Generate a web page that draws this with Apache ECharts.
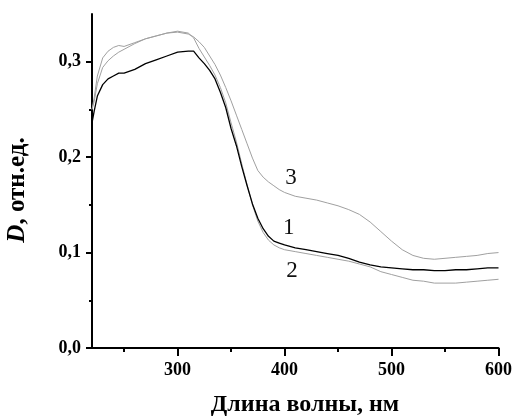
<!DOCTYPE html>
<html>
<head>
<meta charset="utf-8">
<script src="https://cdn.jsdelivr.net/npm/echarts@6/dist/echarts.min.js"></script>
<style>
  html, body { margin: 0; padding: 0; background: #fff; }
  #chart { width: 515px; height: 418px; }
</style>
</head>
<body>
<div id="chart"></div>
<script>
// длины волн, нм
const wavelengths = [220, 222, 225, 230, 235, 240, 245, 250, 260, 270, 280, 290, 300, 310, 315, 320, 325, 330, 335, 340,
  345, 350, 355, 360, 365, 370, 375, 380, 385, 390, 395, 400, 410, 420, 430, 440, 450, 460, 470, 480,
  490, 500, 510, 520, 530, 540, 550, 560, 570, 580, 590, 600];

// кривая 1 (чёрная)
const curve1 = [0.236, 0.248, 0.264, 0.276, 0.282, 0.285, 0.288, 0.288, 0.292, 0.298, 0.302, 0.306, 0.310, 0.311, 0.311, 0.304, 0.298, 0.291, 0.282, 0.268,
  0.252, 0.230, 0.212, 0.190, 0.170, 0.151, 0.136, 0.125, 0.117, 0.112, 0.110, 0.108, 0.105, 0.103, 0.101, 0.099, 0.097, 0.094, 0.090, 0.087,
  0.085, 0.084, 0.083, 0.082, 0.082, 0.081, 0.081, 0.082, 0.082, 0.083, 0.084, 0.084];

// кривая 2 (серая, нижняя справа)
const curve2 = [0.250, 0.258, 0.277, 0.294, 0.301, 0.306, 0.310, 0.313, 0.319, 0.324, 0.327, 0.330, 0.332, 0.330, 0.325, 0.314, 0.305, 0.296, 0.286, 0.273,
  0.257, 0.236, 0.216, 0.193, 0.171, 0.150, 0.133, 0.121, 0.113, 0.108, 0.105, 0.103, 0.101, 0.099, 0.097, 0.095, 0.093, 0.091, 0.088, 0.085,
  0.080, 0.077, 0.074, 0.071, 0.070, 0.068, 0.068, 0.068, 0.069, 0.070, 0.071, 0.072];

// кривая 3 (серая, верхняя справа)
const curve3 = [0.250, 0.262, 0.285, 0.304, 0.311, 0.315, 0.317, 0.316, 0.320, 0.324, 0.327, 0.330, 0.331, 0.329, 0.326, 0.321, 0.315, 0.306, 0.297, 0.286,
  0.273, 0.259, 0.244, 0.229, 0.214, 0.199, 0.186, 0.179, 0.174, 0.170, 0.166, 0.163, 0.159, 0.157, 0.155, 0.152, 0.149, 0.145, 0.140, 0.132,
  0.122, 0.112, 0.103, 0.097, 0.094, 0.093, 0.094, 0.095, 0.096, 0.097, 0.099, 0.100];

// подписи кривых: [номер, λ, D]
const curveLabels = [['1', 404, 0.126], ['2', 407, 0.081], ['3', 406, 0.178]];

const xMajor = [300, 400, 500, 600];
const xMinor = [250, 350, 450, 550];
const yMajor = [0, 0.1, 0.2, 0.3];
const yMinor = [0.05, 0.15, 0.25];

const FONT = '"Liberation Serif", "DejaVu Serif", serif';
const zip = (xs, ys) => xs.map((x, i) => [x, ys[i]]);

const chart = echarts.init(document.getElementById('chart'));

const axisLine = { show: true, lineStyle: { color: '#000', width: 2 } };

const option = {
  animation: false,
  backgroundColor: '#fff',
  grid: { left: 92, right: 15, top: 14, bottom: 70 },
  xAxis: [{
    type: 'value', min: 220, max: 600,
    axisLine: axisLine,
    splitLine: { show: false },
    axisTick: { show: true, customValues: xMajor, length: 8, lineStyle: { color: '#000', width: 2 } },
    axisLabel: { customValues: xMajor, margin: 13, color: '#000', fontFamily: FONT, fontWeight: 'bold', fontSize: 18 }
  }, {
    type: 'value', min: 220, max: 600, position: 'bottom',
    axisLine: { show: false },
    splitLine: { show: false },
    axisTick: { show: true, customValues: xMinor, length: 4, lineStyle: { color: '#000', width: 2 } },
    axisLabel: { show: false }
  }],
  yAxis: [{
    type: 'value', min: 0, max: 0.35,
    axisLine: axisLine,
    splitLine: { show: false },
    axisTick: { show: true, customValues: yMajor, length: 6, lineStyle: { color: '#000', width: 2 } },
    axisLabel: {
      customValues: yMajor, margin: 11, color: '#000', fontFamily: FONT, fontWeight: 'bold', fontSize: 18,
      formatter: v => v.toFixed(1).replace('.', ',')
    }
  }, {
    type: 'value', min: 0, max: 0.35, position: 'left',
    axisLine: { show: false },
    splitLine: { show: false },
    axisTick: { show: true, customValues: yMinor, length: 3, lineStyle: { color: '#000', width: 2 } },
    axisLabel: { show: false }
  }],
  series: [
    { name: '3', type: 'line', data: zip(wavelengths, curve3), showSymbol: false, lineStyle: { color: '#a0a0a0', width: 1 }, z: 2 },
    { name: '2', type: 'line', data: zip(wavelengths, curve2), showSymbol: false, lineStyle: { color: '#a0a0a0', width: 1 }, z: 2 },
    {
      name: '1', type: 'line', data: zip(wavelengths, curve1), showSymbol: false, lineStyle: { color: '#000', width: 1.3 }, z: 3,
      markPoint: {
        symbol: 'circle', symbolSize: 0, silent: true,
        label: { show: true, position: 'inside', color: '#111', fontFamily: FONT, fontSize: 23, formatter: p => p.name },
        data: curveLabels.map(([n, x, y]) => ({ name: n, coord: [x, y] }))
      }
    }
  ],
  graphic: [{
    type: 'text', x: 305, y: 405,
    style: { text: 'Длина волны, нм', font: 'bold 24px ' + FONT, fill: '#000', align: 'center', verticalAlign: 'middle' }
  }, {
    type: 'text', x: 18, y: 190, rotation: Math.PI / 2,
    style: {
      text: '{i|D}, отн.ед.', fill: '#000', align: 'center', verticalAlign: 'middle',
      font: 'bold 25px ' + FONT,
      rich: { i: { fontStyle: 'italic', fontWeight: 'bold', fontSize: 25, fontFamily: FONT } }
    }
  }]
};

chart.setOption(option);
</script>
</body>
</html>
